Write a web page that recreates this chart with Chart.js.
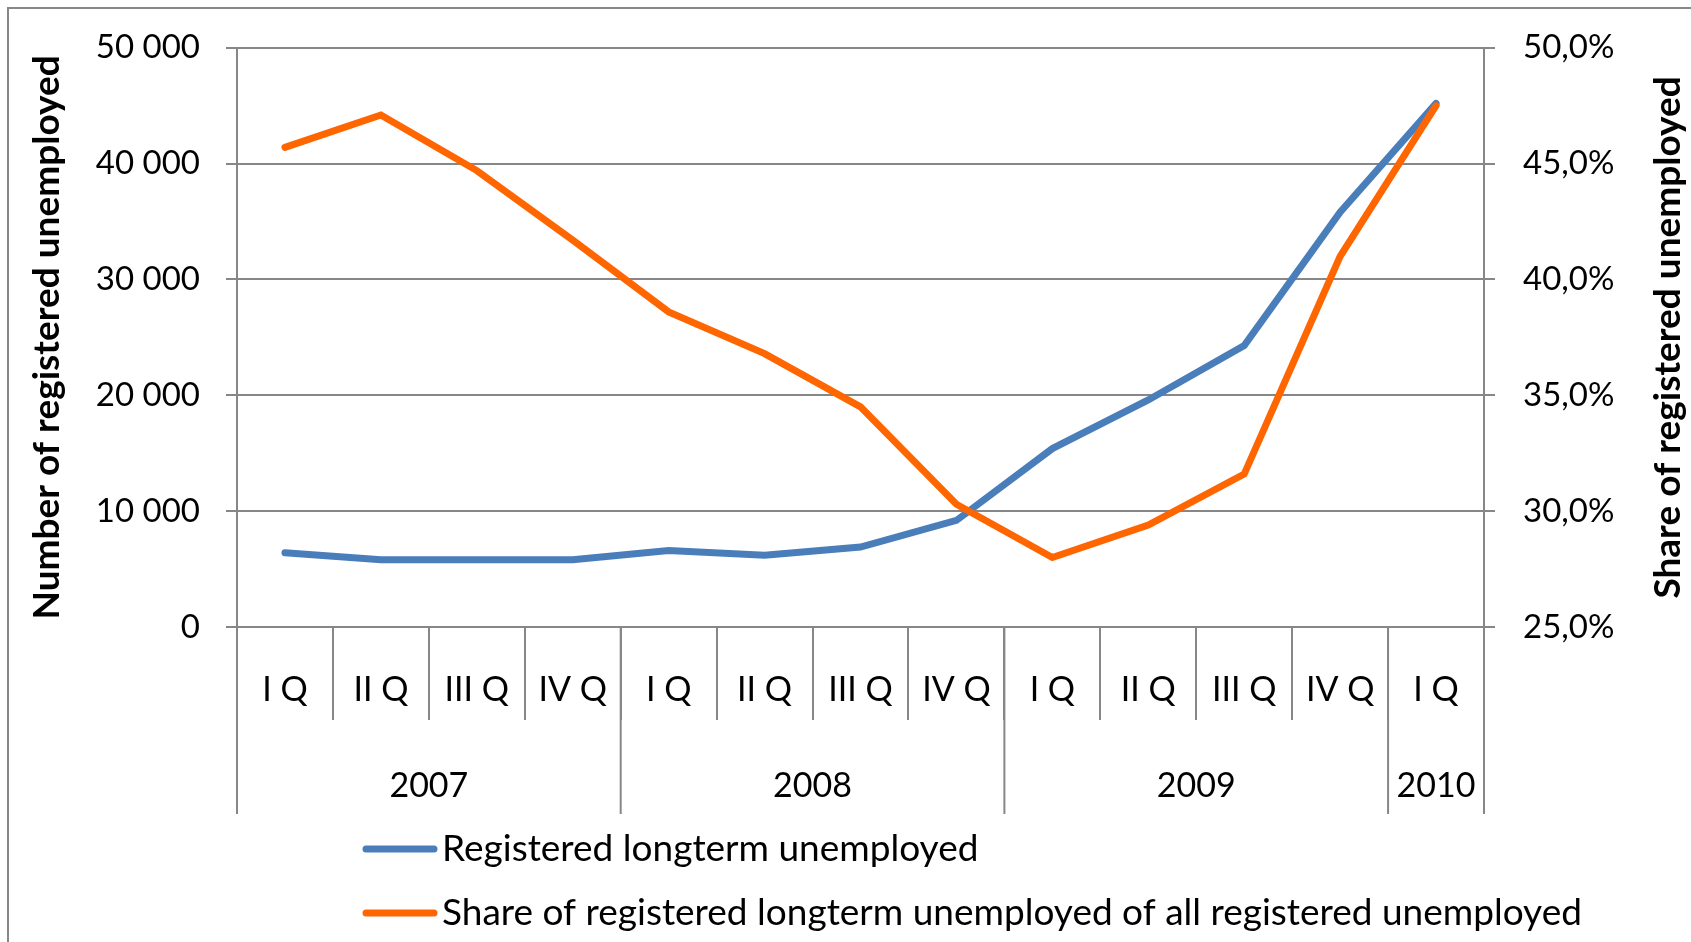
<!DOCTYPE html>
<html>
<head>
<meta charset="utf-8">
<script src="https://cdn.jsdelivr.net/npm/chart.js@4.4.0/dist/chart.umd.min.js"></script>
<style>
  html, body { margin: 0; padding: 0; background: #fff; }
  canvas { display: block; }
</style>
</head>
<body>
<canvas id="graph" width="1691" height="942"></canvas>
<script>
// quarters and years of the horizontal axis
var quarters = ['I Q', 'II Q', 'III Q', 'IV Q', 'I Q', 'II Q', 'III Q', 'IV Q', 'I Q', 'II Q', 'III Q', 'IV Q', 'I Q'];
var years = ['2007', '2008', '2009', '2010'];
var yearSpans = [4, 4, 4, 1];

// series
var longtermUnemployed = [6400, 5800, 5800, 5800, 6600, 6200, 6900, 9200, 15400, 19600, 24300, 35800, 45200];
var shareLongterm = [45.7, 47.1, 44.7, 41.7, 38.6, 36.8, 34.5, 30.3, 28.0, 29.4, 31.6, 41.0, 47.5];

var seriesLabels = ['Registered longterm unemployed', 'Share of registered longterm unemployed of all registered unemployed'];
var leftTitle = 'Number of registered unemployed';
var rightTitle = 'Share of registered unemployed';

var police = 'Lato';
var gris = '#878787';

function milliers(v) {
    return String(v).replace(/\B(?=(\d{3})+(?!\d))/g, ' ');
}
function pourcent(v) {
    return v.toFixed(1).replace('.', ',') + '%';
}

var decor = {
    id: 'decor',
    afterDraw: function (chart) {
        var ctx = chart.ctx;
        var xs = chart.scales.x;
        var area = chart.chartArea;
        var pas = (xs.right - xs.left) / quarters.length;

        ctx.save();
        // outer frame (only left and top visible)
        ctx.strokeStyle = gris;
        ctx.lineWidth = 2;
        ctx.beginPath();
        ctx.moveTo(8, 942);
        ctx.lineTo(8, 8);
        ctx.lineTo(1691, 8);
        ctx.stroke();

        // year separators and year labels
        ctx.fillStyle = '#000';
        ctx.font = '34px ' + police;
        ctx.textAlign = 'center';
        ctx.textBaseline = 'middle';
        var k = 0;
        for (var i = 0; i < years.length; i++) {
            var x0 = xs.left + k * pas;
            var x1 = xs.left + (k + yearSpans[i]) * pas;
            ctx.beginPath();
            ctx.moveTo(x0, area.bottom);
            ctx.lineTo(x0, 814);
            ctx.stroke();
            ctx.fillText(years[i], (x0 + x1) / 2, 786);
            k += yearSpans[i];
        }
        ctx.beginPath();
        ctx.moveTo(xs.right, area.bottom);
        ctx.lineTo(xs.right, 814);
        ctx.stroke();

        // legend
        ctx.textAlign = 'left';
        ctx.font = '37px ' + police;
        var rows = [849, 913];
        chart.data.datasets.forEach(function (ds, j) {
            ctx.strokeStyle = ds.borderColor;
            ctx.lineWidth = 7;
            ctx.lineCap = 'round';
            ctx.beginPath();
            ctx.moveTo(366, rows[j]);
            ctx.lineTo(434, rows[j]);
            ctx.stroke();
            ctx.fillText(ds.label, 442, rows[j]);
        });

        // axis titles, both reading bottom to top
        ctx.font = 'bold 37px ' + police;
        ctx.textAlign = 'center';
        var cy = (area.top + area.bottom) / 2;
        ctx.translate(47, cy);
        ctx.rotate(-Math.PI / 2);
        ctx.fillText(leftTitle, 0, 0);
        ctx.rotate(Math.PI / 2);
        ctx.translate(-47, -cy);
        ctx.translate(1668, cy);
        ctx.rotate(-Math.PI / 2);
        ctx.fillText(rightTitle, 0, 0);
        ctx.restore();
    }
};

var ctx = document.getElementById('graph').getContext('2d');
var myChart = new Chart(ctx, {
    type: 'line',
    data: {
        labels: quarters,
        datasets: [{
            label: seriesLabels[0],
            data: longtermUnemployed,
            borderColor: '#4a7ebb',
            borderWidth: 7,
            yAxisID: 'y',
            order: 1
        },
        {
            label: seriesLabels[1],
            data: shareLongterm,
            borderColor: '#ff6600',
            borderWidth: 7,
            yAxisID: 'y1',
            order: 0
        }]
    },
    options: {
        responsive: false,
        animation: false,
        events: [],
        layout: { padding: { top: 46, left: 0, right: 0, bottom: 0 } },
        elements: {
            point: { radius: 0 },
            line: { tension: 0, borderCapStyle: 'round', borderJoinStyle: 'miter' }
        },
        plugins: {
            legend: { display: false },
            tooltip: { enabled: false }
        },
        scales: {
            x: {
                offset: true,
                grid: { offset: true, drawOnChartArea: false, drawTicks: true, tickLength: 93, color: gris, lineWidth: 2 },
                border: { display: false },
                ticks: { color: '#000', font: { family: police, size: 34 }, padding: -50, maxRotation: 0, autoSkip: false },
                afterFit: function (s) { s.height = 942 - 627; }
            },
            y: {
                position: 'left',
                min: 0,
                max: 50000,
                grid: { color: gris, lineWidth: 2, tickLength: 11 },
                border: { color: gris, width: 2 },
                ticks: { stepSize: 10000, color: '#000', font: { family: police, size: 33 }, padding: 26, callback: milliers },
                afterFit: function (s) { s.width = 237; }
            },
            y1: {
                position: 'right',
                min: 25,
                max: 50,
                grid: { drawOnChartArea: false, color: gris, lineWidth: 2, tickLength: 11 },
                border: { color: gris, width: 2 },
                ticks: { stepSize: 5, color: '#000', font: { family: police, size: 33 }, padding: 28, callback: pourcent },
                afterFit: function (s) { s.width = 1691 - 1484; }
            }
        }
    },
    plugins: [decor]
});
</script>
</body>
</html>
